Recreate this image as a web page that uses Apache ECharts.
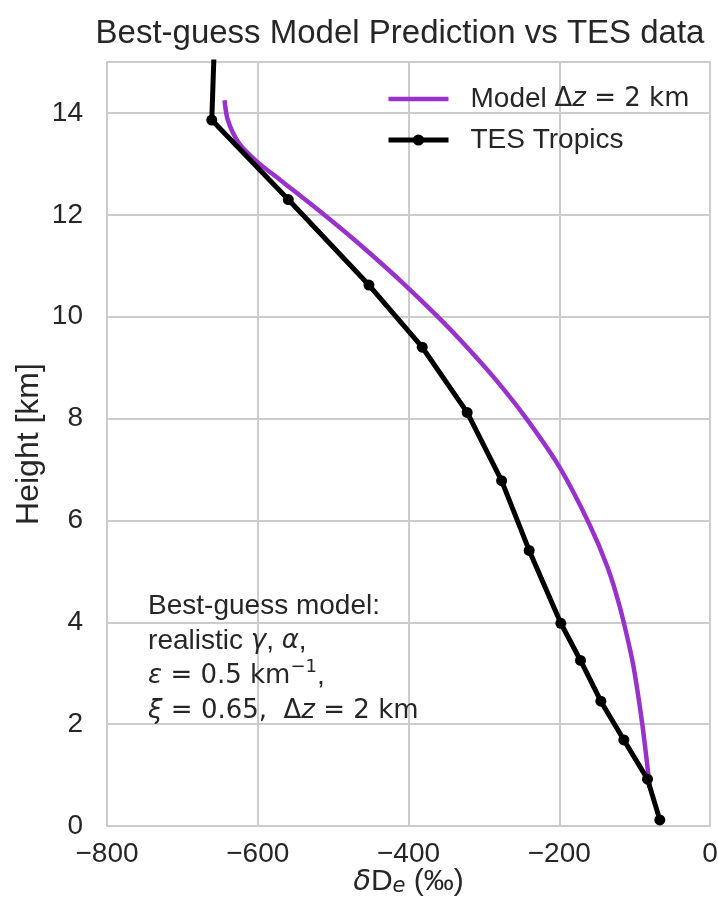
<!DOCTYPE html>
<html><head><meta charset="utf-8">
<script src="https://cdn.jsdelivr.net/npm/echarts@6.0.0/dist/echarts.min.js"></script>
<style>html,body{margin:0;padding:0;background:#fff}#c{width:718px;height:918px}</style>
</head><body><div id="c"></div>
<script>
// TES Tropics profile (δD_e in permil, height in km)
const tesX = [-66.6, -82.9, -114.3, -144.8, -171.8, -197.9, -239.9, -276.5, -322.2, -381.8, -452.5, -559.5, -661, -657];
const tesY = [0.12, 0.92, 1.69, 2.45, 3.25, 3.98, 5.41, 6.78, 8.12, 9.40, 10.62, 12.30, 13.86, 15.6];
// Best-guess model, Δz = 2 km
const modelX = [-80, -81, -84.5, -90, -98.5, -105, -119.8, -136.2, -160.5, -199.8, -242.1, -284, -324.8, -361.2, -407.4, -450.9, -487.2, -531.2, -569.9, -602.2, -625.6, -639.7, -644];
const modelY = [0.75, 0.90, 1.36, 2.02, 2.87, 3.39, 4.31, 5.09, 5.94, 7.05, 7.97, 8.76, 9.44, 10.0, 10.66, 11.24, 11.70, 12.23, 12.68, 13.06, 13.42, 13.86, 14.25];

const FONT = '"Liberation Sans", Arial, sans-serif';
const MATH = '"DejaVu Sans", sans-serif';
const TXT = '#262626';
const GRID = '#cccccc';
const PURPLE = '#9932CC';

const zip = (xs, ys) => xs.map((x, i) => [x, ys[i]]);
const mathRich = {
  m: {fontFamily: MATH, fontSize: 26, color: TXT},
  mi: {fontFamily: MATH, fontSize: 26, fontStyle: 'italic', color: TXT},
  sup: {fontFamily: MATH, fontSize: 18, color: TXT, verticalAlign: 'top'},
  t: {fontFamily: FONT, fontSize: 28, color: TXT}
};
const nameRich = {
  mi: {fontFamily: MATH, fontSize: 29, fontStyle: 'italic', color: TXT},
  t: {fontFamily: FONT, fontSize: 30, color: TXT},
  sub: {fontFamily: MATH, fontSize: 21, fontStyle: 'italic', color: TXT, verticalAlign: 'bottom'}
};

const chart = echarts.init(document.getElementById('c'), null, {renderer: 'canvas'});
chart.setOption({
  animation: false,
  backgroundColor: '#ffffff',
  textStyle: {fontFamily: FONT},
  title: {
    text: 'Best-guess Model Prediction vs TES data',
    left: 395, top: 12, textAlign: 'center',
    textStyle: {fontSize: 33, fontWeight: 'normal', color: TXT, fontFamily: FONT}
  },
  legend: {
    orient: 'vertical', left: 386, top: 84, padding: 0,
    itemWidth: 60, itemHeight: 14, itemGap: 11,
    data: [
      {name: 'Model', lineStyle: {width: 4.5, color: PURPLE}, itemStyle: {opacity: 0}},
      {name: 'TES Tropics', lineStyle: {width: 5, color: '#000'}, itemStyle: {color: '#000'}}
    ],
    formatter: n => n === 'Model' ? '{t|Model }{m|Δ}{mi|z}{m| = 2 km}' : '{t|' + n + '}',
    textStyle: {fontSize: 28, color: TXT, fontFamily: FONT, padding: [0, 0, 0, 17], lineHeight: 30, rich: mathRich}
  },
  grid: {left: 107, right: 8, top: 62, bottom: 92, show: true, borderColor: GRID, borderWidth: 2, outerBoundsMode: 'none', containLabel: false},
  xAxis: {
    type: 'value', min: -800, max: 0, interval: 200,
    name: '{mi|δ}{t|D}{sub|e}{t| (‰)}', nameLocation: 'middle', nameGap: 41, nameMoveOverlap: false,
    nameTextStyle: {fontSize: 30, color: TXT, rich: nameRich},
    axisLine: {show: false}, axisTick: {show: false},
    axisLabel: {fontSize: 28, color: TXT, margin: 14, fontFamily: FONT,
      formatter: v => v < 0 ? '\u2212' + Math.abs(v) : String(v)},
    splitLine: {show: true, lineStyle: {color: GRID, width: 2}}
  },
  yAxis: {
    type: 'value', min: 0, max: 15, interval: 2,
    name: 'Height [km]', nameLocation: 'middle', nameGap: 62, nameMoveOverlap: false,
    nameTextStyle: {fontSize: 32, color: TXT, fontFamily: FONT},
    axisLine: {show: false}, axisTick: {show: false},
    axisLabel: {fontSize: 28, color: TXT, margin: 24, fontFamily: FONT, showMaxLabel: false},
    splitLine: {show: true, lineStyle: {color: GRID, width: 2}}
  },
  series: [
    {
      name: 'Model', type: 'line', data: zip(modelX, modelY),
      showSymbol: false, symbol: 'none', smooth: 0.3, clip: true,
      lineStyle: {color: PURPLE, width: 4.5}, itemStyle: {color: PURPLE}, z: 2
    },
    {
      name: 'TES Tropics', type: 'line', data: zip(tesX, tesY),
      symbol: 'circle', symbolSize: 11, clip: true,
      lineStyle: {color: '#000000', width: 5}, itemStyle: {color: '#000000'}, z: 3
    }
  ]
});

const anchor = chart.convertToPixel({gridIndex: 0}, [-745.5, 4.66]);
chart.setOption({
  graphic: [{
    type: 'text', x: anchor[0], y: anchor[1], z: 10,
    style: {
      text: '{t|Best-guess model:}\n{t|realistic }{mi|γ}{t|, }{mi|α}{t|,}\n{mi|ε}{m| = 0.5 km}{sup|−1}{t|,}\n{mi|ξ}{m| = 0.65,  Δ}{mi|z}{m| = 2 km}',
      fontSize: 28, fontFamily: FONT, fill: TXT, lineHeight: 35,
      rich: Object.fromEntries(Object.entries(mathRich).map(([k, v]) => [k, Object.assign({}, v, {lineHeight: 35, fill: TXT})]))
    }
  }]
});
</script></body></html>
